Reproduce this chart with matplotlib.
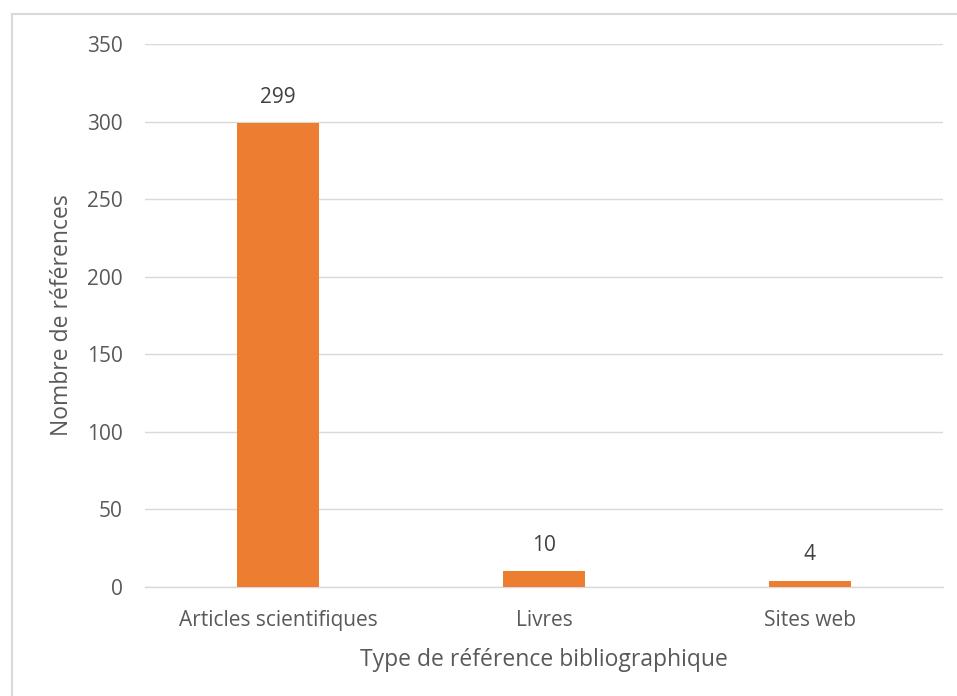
import matplotlib.pyplot as plt
from matplotlib.lines import Line2D

categories = ["Articles scientifiques", "Livres", "Sites web"]
values = [299, 10, 4]
yticks = [0, 50, 100, 150, 200, 250, 300, 350]

TXT = "#595959"
plt.rcParams["font.family"] = ["Open Sans", "DejaVu Sans"]

fig = plt.figure(figsize=(9.57, 6.96), dpi=100)
fig.set_facecolor("white")
ax = fig.add_axes([145/957, 1-587/696, (943-145)/957, (587-44)/696])

x = range(len(categories))
ax.bar(x, values, width=0.31, color="#ed7d31", zorder=3)
for xi, v in zip(x, values):
    ax.text(xi, v + 10, str(v), ha="center", va="bottom", fontsize=15, color="#404040")

ax.set_xlim(-0.5, len(categories) - 0.5)
ax.set_ylim(0, 350)
ax.set_yticks(yticks)
ax.set_xticks(list(x))
ax.set_xticklabels(categories)
ax.tick_params(axis="both", length=0, labelsize=15, colors=TXT)
ax.tick_params(axis="y", pad=16)
ax.tick_params(axis="x", pad=16.5)
ax.grid(axis="y", color="#d9d9d9", linewidth=1, zorder=0)
for s in ["top", "right", "left"]:
    ax.spines[s].set_visible(False)
ax.spines["bottom"].set_color("#d9d9d9")
ax.spines["bottom"].set_linewidth(1)

ax.set_xlabel("Type de référence bibliographique", fontsize=16.5, color=TXT, labelpad=12)
ax.set_ylabel("Nombre de références", fontsize=16.5, color=TXT, labelpad=9)

# chart border (only top and left edges visible)
W, H = 957, 696
fig.lines.append(Line2D([11.5/W, 1], [1-13.5/H, 1-13.5/H], transform=fig.transFigure,
                        color="#d9d9d9", linewidth=1.5))
fig.lines.append(Line2D([11.5/W, 11.5/W], [0, 1-13.5/H], transform=fig.transFigure,
                        color="#d9d9d9", linewidth=1.5))

plt.savefig("out.png", dpi=100)
plt.close()
